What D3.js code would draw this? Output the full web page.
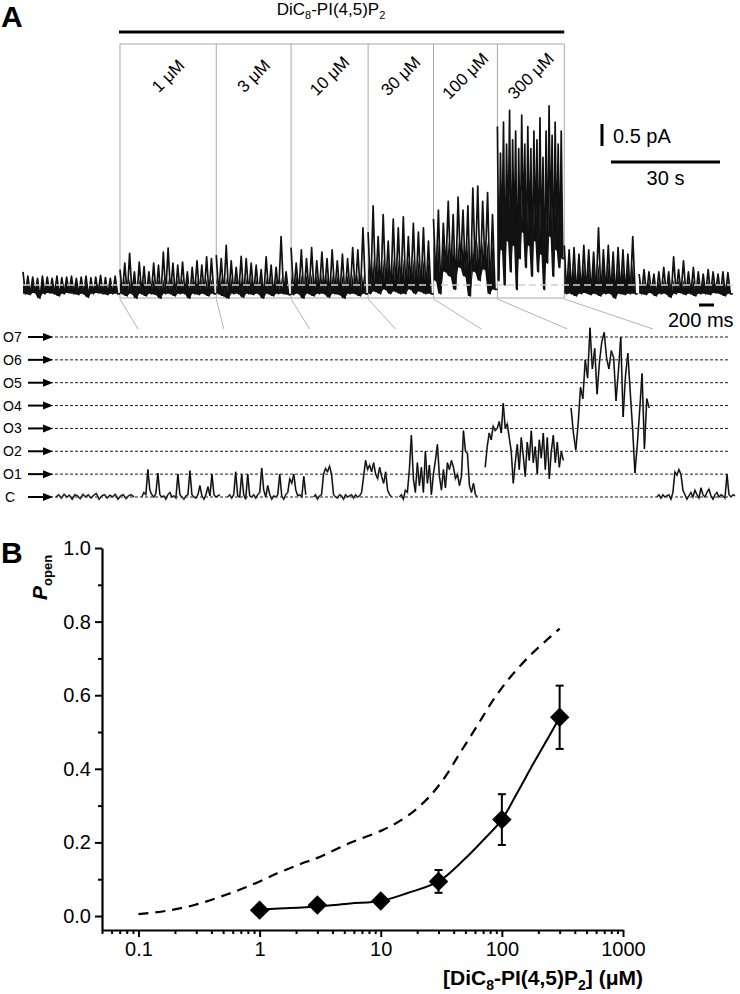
<!DOCTYPE html>
<html>
<head>
<meta charset="utf-8">
<script src="https://cdn.jsdelivr.net/npm/d3@7"></script>
<style>
body { margin: 0; background: #fff; }
svg text { font-family: Arial, "Liberation Sans", sans-serif; fill: #000; }
</style>
</head>
<body>
<div id="chart"></div>
<script>
// ---------- panel A data ----------
const concLabels = ["1 μM", "3 μM", "10 μM", "30 μM", "100 μM", "300 μM"];
const boxEdges = [26.7, 53.2, 73.8, 95.0, 113.0, 130.6, 149.0];   // s
const regionStarts = [0, 26.7, 53.2, 73.8, 95.0, 113.0, 130.6, 149.0, 169.6];
const regionEnds = [26.7, 53.2, 73.8, 95.0, 113.0, 130.6, 149.0, 169.2, 195.4];
const bandTops = [0.1, 0.15, 0.18, 0.25, 0.6, 1.0, 2.2, 0.5, 0.12];  // pA

// peak (up) and trough (lo) envelope of the slow trace, pA
const upPre = [0.3,0.2,0.18,0.15,0.2,0.18,0.15,0.2,0.17,0.18,0.2,0.15,0.18,0.2,0.16,0.18,0.22,0.17,0.15,0.2];
const loPre = [-0.2,-0.22,-0.18,-0.3,-0.2,-0.18,-0.2,-0.25,-0.2,-0.18,-0.2,-0.22,-0.2,-0.28,-0.2,-0.18,-0.2,-0.22,-0.2,-0.2];
const up1 = [0.35,0.5,0.72,0.3,0.52,0.42,0.3,0.5,0.45,0.75,0.84,0.5,0.45,0.52,0.3,0.4,0.55,0.45,0.64,0.6];
const lo1 = [-0.2,-0.25,-0.2,-0.3,-0.2,-0.25,-0.2,-0.22,-0.3,-0.2,-0.2,-0.25,-0.2,-0.2,-0.3,-0.2,-0.22,-0.2,-0.25,-0.2];
const up3 = [0.68,0.6,0.9,0.55,0.4,0.65,0.6,0.5,0.45,0.35,0.64,0.45,0.4,1.1,0.3];
const lo3 = [-0.2,-0.25,-0.3,-0.2,-0.2,-0.28,-0.2,-0.22,-0.2,-0.3,-0.2,-0.25,-0.2,-0.2,-0.22];
const up10 = [0.85,0.5,0.8,0.6,0.85,0.55,0.75,0.6,0.8,0.55,0.7,0.6,0.85,0.8,1.3];
const lo10 = [-0.22,-0.2,-0.3,-0.2,-0.25,-0.2,-0.2,-0.28,-0.2,-0.22,-0.3,-0.2,-0.2,-0.25,-0.2];
const up30 = [1.2,1.8,1.1,1.6,1.0,1.5,1.3,1.55,1.1,1.4,1.2,1.3,1.0];
const lo30 = [-0.2,-0.15,-0.2,-0.1,-0.2,-0.15,-0.2,-0.2,-0.1,-0.2,-0.15,-0.2,-0.2];
const up100 = [1.5,1.7,1.4,1.9,1.6,2.0,1.7,1.8,2.2,2.25,1.9,2.1,1.6];
const lo100 = [0.1,-0.2,0.3,0.2,-0.1,0.4,0.2,-0.25,0.3,0.1,0.35,-0.2,-0.1];
const up300 = [3.6,3.0,3.7,3.2,3.97,3.3,3.5,3.1,3.86,3.2,3.6,3.1,3.5,3.3,3.8,2.9,3.5,4.07,3.4,3.7,3.2,3.5];
const lo300 = [0.1,0.8,0.0,1.0,0.3,0.9,-0.1,0.6,1.2,0.4,0.9,0.2,1.0,0.3,0.7,-0.1,0.5,1.1,0.2,0.8,0.4,0.6];
const upWash1 = [0.9,0.8,0.85,0.7,0.9,0.8,0.75,1.3,0.8,0.9,0.75,0.85,0.8,0.7,1.1];
const loWash1 = [-0.2,-0.2,-0.25,-0.2,-0.18,-0.22,-0.2,-0.25,-0.2,-0.2,-0.3,-0.2,-0.22,-0.2,-0.2];
const upWash2 = [0.25,0.35,0.3,0.25,0.3,0.4,0.3,0.64,0.35,0.55,0.3,0.4,0.3,0.25,0.35,0.3,0.25,0.3,0.28];
const loWash2 = [-0.2,-0.22,-0.18,-0.25,-0.2,-0.2,-0.28,-0.2,-0.18,-0.22,-0.2,-0.25,-0.2,-0.2,-0.22,-0.18,-0.2,-0.25,-0.2];

// expanded stretches, in units of unitary open levels
const stateLabels = ["C", "O1", "O2", "O3", "O4", "O5", "O6", "O7"];
const segCtrl = [0,0.1,-0.05,0.12,0,0.08,-0.1,0.1,0.05,-0.08,0.12,0,0.1,-0.05,0.08,0.15,-0.1,0.05,0.1,-0.05,0.08,0,0.12,-0.1,0.05,0.1,-0.08,0.06,0.1,0];
const seg1 = [0,0.2,0.1,1.2,0.3,0.1,0,0.15,1.05,0.1,0,0.05,-0.1,0.1,0.2,0,0.05,-0.05,1.0,0.1,0,-0.1,0.05,0.1,1.15,0.1,0,-0.05,0.1,0.5,0.05,-0.1,0.1,0.45,0.05,1.0,0.1,0,0.05,0.1];
const seg3 = [0,0.1,-0.05,0.1,1.1,0.05,0,1.0,0.1,-0.1,1.0,0.05,0,0.1,-0.05,0.1,0.2,1.27,0.3,0,0.5,0.1,-0.1,0.05,0,0.1,1.0,0.05,-0.1,0.1,0.2,0.8,0.6,1.0,0.3,0.05,0.1,0,0.9,0.1];
const seg10 = [0,0.1,-0.1,0.05,0.1,1.0,1.25,1.1,1.35,1.0,0.1,0,-0.05,0.1,0.05,-0.1,0.1,0,0.05,0.1,-0.05,0.1,0,0.05,0.2,0.9,1.6,1.2,1.4,1.1,1.5,1.0,0.8,1.3,0.9,0.6,1.1,0.3,0.1,0];
const seg30 = [0,0.1,-0.1,0.3,0.2,1.2,2.7,0.8,0.2,1.5,0.5,1.3,0.2,2.0,0.6,1.4,0.1,1.0,1.6,2.3,0.9,0.3,1.2,0.4,1.5,1.2,1.6,1.3,0.8,1.0,0.5,0.9,2.9,2.0,1.9,0.5,0.2,0.6,0.1,0];
const seg100 = [1.3,2.2,2.8,2.5,3.1,2.9,3.0,3.3,2.8,4.1,3.0,3.2,2.6,2.0,0.6,1.5,2.3,1.2,2.6,1.8,0.9,2.4,1.6,2.9,1.5,2.2,1.0,2.5,1.7,2.8,1.2,2.6,0.8,2.0,2.7,1.5,2.4,1.3,2.0,1.6];
const seg300 = [3.9,2.8,2.05,3.2,4.8,4.3,6.0,5.2,7.4,5.6,6.5,4.5,5.9,6.8,7.2,6.1,5.6,6.4,6.1,4.2,5.5,7.0,3.5,5.3,6.3,4.6,3.0,1.05,2.3,3.8,5.4,2.1,4.3,3.9];
const segWash = [0,0.1,-0.05,0.1,0,0.05,0.1,-0.1,0.2,1.1,0.95,1.2,1.0,0.3,0.1,-0.1,0.05,0.2,0,0.3,0.1,-0.05,0.4,0.1,0,0.2,0.35,0.05,-0.1,0.1,0.2,0,0.1,0.05,-0.05,1.0,0.1,0,0.1,0.05];

const barPA = 0.5, barSec = 30, barMs = 200, segMs = 1040;

// ---------- panel B data ----------
const conc = [1, 3, 10, 30, 100, 300];
const popen = [0.016, 0.03, 0.041, 0.094, 0.262, 0.54];
const popenErr = [0.004, 0.005, 0.006, 0.031, 0.069, 0.086];
const fitConc = [1, 1.6, 3, 5.6, 10, 16.5, 30, 48.6, 71, 100, 134, 184, 252, 300];
const fitP = [0.018, 0.021, 0.026, 0.034, 0.041, 0.062, 0.094, 0.153, 0.208, 0.262, 0.335, 0.417, 0.495, 0.54];
const dashConc = [0.1, 0.17, 0.29, 0.48, 0.8, 1.4, 2.2, 3, 5.6, 10.6, 16.5, 24, 33, 45.5, 62.6, 86, 118, 172, 252, 300];
const dashP = [0.005, 0.014, 0.03, 0.053, 0.08, 0.116, 0.142, 0.158, 0.199, 0.235, 0.271, 0.317, 0.372, 0.445, 0.517, 0.59, 0.65, 0.709, 0.759, 0.781];
const yTicks = [0, 0.2, 0.4, 0.6, 0.8, 1.0];
const yMinor = [0.1, 0.3, 0.5, 0.7, 0.9];
const xTicks = [0.1, 1, 10, 100, 1000];

const svg = d3.select("#chart").append("svg")
    .attr("width", 740)
    .attr("height", 994);

// ================= Panel A =================
const xT = d3.scaleLinear().domain([0, 196]).range([23, 735]);
const yT = d3.scaleLinear().domain([0, 1]).range([285, 241]);

svg.append("text").attr("x", 1).attr("y", 27)
    .style("font-size", "30px").style("font-weight", "bold").text("A");

// drug label with subscripts
const ttl = svg.append("text").attr("x", 331).attr("y", 15)
    .attr("text-anchor", "middle").style("font-size", "17px");
ttl.append("tspan").text("DiC");
ttl.append("tspan").attr("dy", 4).style("font-size", "11px").text("8");
ttl.append("tspan").attr("dy", -4).text("-PI(4,5)P");
ttl.append("tspan").attr("dy", 4).style("font-size", "11px").text("2");

svg.append("line")
    .attr("x1", xT(boxEdges[0]) - 1).attr("x2", xT(boxEdges[6]))
    .attr("y1", 32).attr("y2", 32)
    .attr("stroke", "#000").attr("stroke-width", 3);

// application boxes
const boxTop = 44, boxBottom = 298;
svg.append("rect")
    .attr("x", xT(boxEdges[0])).attr("y", boxTop)
    .attr("width", xT(boxEdges[6]) - xT(boxEdges[0]))
    .attr("height", boxBottom - boxTop)
    .attr("fill", "none").attr("stroke", "#a8a8a8").attr("stroke-width", 1);
svg.selectAll(".divider").data(boxEdges.slice(1, 6)).enter().append("line")
    .attr("class", "divider")
    .attr("x1", d => xT(d)).attr("x2", d => xT(d))
    .attr("y1", boxTop).attr("y2", boxBottom)
    .attr("stroke", "#a8a8a8").attr("stroke-width", 1);

svg.selectAll(".conc").data(concLabels).enter().append("text")
    .attr("class", "conc")
    .attr("text-anchor", "middle")
    .attr("transform", (d, i) => {
        let cx = (xT(boxEdges[i]) + xT(boxEdges[i + 1])) / 2;
        return "translate(" + (cx + 4) + ",80) rotate(-45)";
    })
    .style("font-size", "17px")
    .text(d => d);

// slow current trace
const ups = [upPre, up1, up3, up10, up30, up100, up300, upWash1, upWash2];
const los = [loPre, lo1, lo3, lo10, lo30, lo100, lo300, loWash1, loWash2];
ups.forEach((up, r) => {
    let lo = los[r];
    let t0 = regionStarts[r], t1 = regionEnds[r];
    let dt = (t1 - t0) / up.length;
    let pts = [];
    up.forEach((u, i) => {
        pts.push({ t: t0 + i * dt, v: u, lo: lo[i] });
        pts.push({ t: t0 + (i + 0.5) * dt, v: lo[i], lo: lo[i] });
    });
    pts.push({ t: t1, v: lo[lo.length - 1], lo: lo[lo.length - 1] });

    svg.append("path")
        .datum(pts)
        .attr("d", d3.area()
            .x(d => xT(d.t))
            .y0(d => yT(d.lo))
            .y1(d => yT(Math.max(d.lo, Math.min(d.v, bandTops[r])))))
        .attr("fill", "#111");
    svg.append("path")
        .datum(pts)
        .attr("d", d3.line().x(d => xT(d.t)).y(d => yT(d.v)))
        .attr("fill", "none").attr("stroke", "#111")
        .attr("stroke-width", 1.7).attr("stroke-linejoin", "round");
});

svg.append("line")
    .attr("x1", xT(0)).attr("x2", xT(regionEnds[8]))
    .attr("y1", yT(0)).attr("y2", yT(0))
    .attr("stroke", "#cfcfcf").attr("stroke-width", 1.5)
    .attr("stroke-dasharray", "7,4");

// scale bars
svg.append("line")
    .attr("x1", 602).attr("x2", 602)
    .attr("y1", 146).attr("y2", 146 - (yT(0) - yT(barPA)))
    .attr("stroke", "#000").attr("stroke-width", 3);
svg.append("text").attr("x", 613).attr("y", 143)
    .style("font-size", "20px").text("0.5 pA");
svg.append("line")
    .attr("x1", 611).attr("x2", 611 + xT(barSec) - xT(0))
    .attr("y1", 162).attr("y2", 162)
    .attr("stroke", "#000").attr("stroke-width", 3);
svg.append("text").attr("x", 611 + (xT(barSec) - xT(0)) / 2).attr("y", 185)
    .attr("text-anchor", "middle").style("font-size", "20px").text("30 s");

// expanded segments
const segs = [segCtrl, seg1, seg3, seg10, seg30, seg100, seg300, segWash];
const segX = d3.scaleBand().domain(d3.range(segs.length)).range([56, 735]).paddingInner(0.09);
const msX = d3.scaleLinear().domain([0, segMs]).range([0, segX.bandwidth()]);
const levelY = d3.scaleLinear().domain([0, 7]).range([497, 337]);

svg.append("line")
    .attr("x1", 699).attr("x2", 699 + msX(barMs))
    .attr("y1", 305).attr("y2", 305)
    .attr("stroke", "#000").attr("stroke-width", 3);
svg.append("text").attr("x", 668).attr("y", 327)
    .style("font-size", "20px").text("200 ms");

// connectors from box edges to gaps between the stretches
let gap = segX.step() - segX.bandwidth();
svg.selectAll(".conn").data(boxEdges).enter().append("line")
    .attr("class", "conn")
    .attr("x1", d => xT(d)).attr("y1", boxBottom + 1)
    .attr("x2", (d, i) => segX(i) + segX.bandwidth() + gap / 2).attr("y2", 329)
    .attr("stroke", "#a0a0a0").attr("stroke-width", 0.8);

// conductance levels
svg.selectAll(".lvl").data(stateLabels).enter().append("line")
    .attr("class", "lvl")
    .attr("x1", 50).attr("x2", 730)
    .attr("y1", (d, i) => levelY(i)).attr("y2", (d, i) => levelY(i))
    .attr("stroke", "#000").attr("stroke-width", 0.9)
    .attr("stroke-dasharray", "3,2");
svg.selectAll(".lvlArrow").data(stateLabels).enter().append("line")
    .attr("class", "lvlArrow")
    .attr("x1", 28).attr("x2", 45)
    .attr("y1", (d, i) => levelY(i)).attr("y2", (d, i) => levelY(i))
    .attr("stroke", "#000").attr("stroke-width", 2);
svg.selectAll(".lvlHead").data(stateLabels).enter().append("path")
    .attr("class", "lvlHead")
    .attr("d", (d, i) => {
        let y = levelY(i);
        return "M43," + (y - 4) + "L53," + y + "L43," + (y + 4) + "Z";
    })
    .attr("fill", "#000");
svg.selectAll(".lvlLabel").data(stateLabels).enter().append("text")
    .attr("class", "lvlLabel")
    .attr("x", (d, i) => i === 0 ? 5 : 3)
    .attr("y", (d, i) => levelY(i) + 5)
    .style("font-size", "14px")
    .text(d => d);

segs.forEach((s, k) => {
    let sx = d3.scaleLinear().domain([0, s.length - 1])
        .range([segX(k), segX(k) + segX.bandwidth()]);
    let line = d3.line().x((d, i) => sx(i)).y(d => levelY(d));
    svg.append("path").datum(s).attr("d", line)
        .attr("fill", "none").attr("stroke", "#777").attr("stroke-width", 1.8);
    svg.append("path").datum(s).attr("d", line)
        .attr("fill", "none").attr("stroke", "#000").attr("stroke-width", 1);
});

// ================= Panel B =================
const xB = d3.scaleLog().domain([0.05, 1000]).range([102, 623]);
const yB = d3.scaleLinear().domain([-0.038, 1]).range([930, 548]);

svg.append("text").attr("x", 1).attr("y", 563)
    .style("font-size", "30px").style("font-weight", "bold").text("B");

// y axis
const yAx = svg.append("g").attr("transform", "translate(" + xB.range()[0] + ",0)")
    .call(d3.axisLeft(yB).tickValues(yTicks).tickSize(7).tickSizeOuter(0)
        .tickPadding(4).tickFormat(d3.format(".1f")));
svg.append("g").attr("transform", "translate(" + xB.range()[0] + ",0)")
    .call(d3.axisLeft(yB).tickValues(yMinor).tickSize(4).tickSizeOuter(0).tickFormat(""))
    .call(g => g.select(".domain").remove());

// x axis
const minorX = xB.ticks().filter(d => xTicks.indexOf(+d.toPrecision(3)) < 0);
const xAx = svg.append("g").attr("transform", "translate(0," + yB.range()[0] + ")")
    .call(d3.axisBottom(xB).tickValues(xTicks).tickSize(7).tickSizeOuter(0)
        .tickPadding(5).tickFormat(d => String(d)));
svg.append("g").attr("transform", "translate(0," + yB.range()[0] + ")")
    .call(d3.axisBottom(xB).tickValues(minorX).tickSize(4).tickSizeOuter(0).tickFormat(""))
    .call(g => g.select(".domain").remove());

svg.selectAll(".domain").attr("stroke-width", 2.2);
svg.selectAll(".tick line").attr("stroke-width", 2);
[yAx, xAx].forEach(g => g.selectAll("text")
    .style("font-size", "20px")
    .attr("font-family", "Arial, 'Liberation Sans', sans-serif")
    .attr("fill", "#000"));

// axis titles
const yTitle = svg.append("text")
    .attr("transform", "translate(47,600) rotate(-90)")
    .style("font-weight", "bold");
yTitle.append("tspan").style("font-size", "21px").style("font-style", "italic").text("P");
yTitle.append("tspan").attr("dy", 5).style("font-size", "13px").text("open");

const xTitle = svg.append("text")
    .attr("x", 543).attr("y", 985)
    .attr("text-anchor", "middle")
    .style("font-size", "21px").style("font-weight", "bold");
xTitle.append("tspan").text("[DiC");
xTitle.append("tspan").attr("dy", 5).style("font-size", "14px").text("8");
xTitle.append("tspan").attr("dy", -5).text("-PI(4,5)P");
xTitle.append("tspan").attr("dy", 5).style("font-size", "14px").text("2");
xTitle.append("tspan").attr("dy", -5).text("] (μM)");

// curves
const dashPts = dashConc.map((c, i) => [c, dashP[i]]);
const fitPts = fitConc.map((c, i) => [c, fitP[i]]);
const curve = d3.line().x(d => xB(d[0])).y(d => yB(d[1])).curve(d3.curveCatmullRom.alpha(0.5));

svg.append("path").datum(dashPts).attr("d", curve)
    .attr("fill", "none").attr("stroke", "#000").attr("stroke-width", 2.2)
    .attr("stroke-dasharray", "10,7");
svg.append("path").datum(fitPts).attr("d", curve)
    .attr("fill", "none").attr("stroke", "#000").attr("stroke-width", 2);

// error bars
const errG = svg.selectAll(".err").data(conc).enter().append("g").attr("class", "err");
errG.append("line")
    .attr("x1", d => xB(d)).attr("x2", d => xB(d))
    .attr("y1", (d, i) => yB(popen[i] + popenErr[i]))
    .attr("y2", (d, i) => yB(popen[i] - popenErr[i]))
    .attr("stroke", "#000").attr("stroke-width", 2);
[1, -1].forEach(sgn => {
    errG.append("line")
        .attr("x1", d => xB(d) - 4).attr("x2", d => xB(d) + 4)
        .attr("y1", (d, i) => yB(popen[i] + sgn * popenErr[i]))
        .attr("y2", (d, i) => yB(popen[i] + sgn * popenErr[i]))
        .attr("stroke", "#000").attr("stroke-width", 2);
});

// diamonds
svg.selectAll(".pt").data(conc).enter().append("path")
    .attr("class", "pt")
    .attr("d", d3.symbol().type(d3.symbolSquare).size(190))
    .attr("transform", (d, i) => "translate(" + xB(d) + "," + yB(popen[i]) + ") rotate(45)")
    .attr("fill", "#000");
</script>
</body>
</html>
